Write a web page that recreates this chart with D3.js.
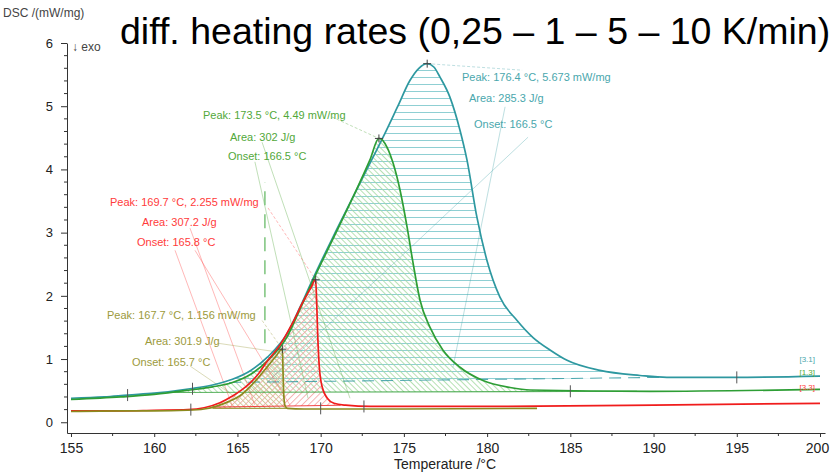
<!DOCTYPE html>
<html>
<head>
<meta charset="utf-8">
<script src="https://cdn.jsdelivr.net/npm/d3@7"></script>
<style>
  body { margin: 0; background: #fff; }
  svg { font-family: "Liberation Sans", Arial, sans-serif; }
</style>
</head>
<body>
<div id="chart"></div>
<script>
// DSC curves, [temperature °C, DSC mW/mg]
const curve10K = [[155.0,0.38],[157,0.4],[158.4,0.43],[160,0.46],[162.15,0.53],[163.5,0.59],[164.7,0.68],[165.8,0.82],[166.8,1.03],[168.0,1.41],[168.76,1.82],[169.5,2.25],[170.74,2.93],[171.94,3.56],[173.14,4.19],[173.75,4.51],[174.6,4.98],[175.37,5.41],[175.9,5.6],[176.4,5.673],[176.8,5.62],[177.17,5.46],[177.77,5.14],[178.37,4.62],[178.79,4.15],[179.39,3.24],[179.99,2.56],[180.77,1.98],[181.8,1.61],[182.76,1.34],[183.8,1.14],[184.8,0.98],[186.78,0.82],[189.19,0.74],[190.8,0.71],[194.77,0.71],[200,0.73]]
const curve5K = [[155,0.36],[158,0.4],[160,0.44],[162.15,0.51],[163.5,0.56],[164.7,0.63],[165.8,0.76],[166.8,0.97],[168.0,1.36],[168.76,1.79],[169.5,2.22],[170.74,2.9],[171.94,3.56],[172.96,4.15],[173.5,4.49],[173.99,4.35],[174.35,4.1],[174.77,3.67],[175.19,3.09],[175.55,2.52],[175.97,1.93],[176.57,1.5],[177.35,1.14],[178.37,0.87],[179.75,0.66],[181.38,0.55],[182.58,0.51],[189.8,0.49],[200,0.52]]
const curve1K = [[155,0.18],[158,0.18],[160,0.19],[162,0.2],[163,0.23],[163.95,0.31],[164.73,0.42],[165.3,0.52],[165.75,0.62],[166.3,0.78],[166.77,0.96],[167.55,1.22],[168.33,1.58],[168.93,1.9],[169.4,2.12],[169.7,2.255],[169.76,1.9],[169.82,1.4],[169.92,0.87],[170.1,0.55],[170.4,0.38],[170.8,0.3],[171.5,0.27],[173,0.25],[180,0.25],[190,0.27],[200,0.3]]
const curve025K = [[155,0.17],[158,0.18],[160,0.18],[162,0.19],[163,0.21],[163.8,0.26],[164.5,0.33],[165.15,0.42],[165.75,0.56],[166.3,0.72],[166.8,0.88],[167.3,1.04],[167.7,1.156],[167.74,0.8],[167.78,0.45],[167.85,0.27],[168,0.22],[169,0.21],[175,0.21],[183,0.22]]

// evaluation results (order: 10, 5, 1, 0.25 K/min)
const peakT = [176.4, 173.5, 169.7, 167.7]
const peakV = ['5.673', '4.49', '2.255', '1.156']
const areas = ['285.3', '302', '307.2', '301.9']
const onsets = ['166.5', '166.5', '165.8', '165.7']

// integration baselines [[T1,v1],[T2,v2]]
const baselines = [
  [[164.5,0.63],[190.5,0.71]],
  [[161,0.47],[189,0.49]],
  [[163.5,0.24],[171.2,0.27]],
  [[163.5,0.22],[168,0.22]]
]
// limit marks on the curves
const limitMarks = [[158.4,0.43],[195,0.71],[162.3,0.53],[185,0.49],[162.2,0.2],[170,0.22],[172.6,0.25]]
// onset guide (dashed vertical)
const onsetGuide = [[166.65,1.25],[166.65,3.8]]
// leader lines, data coords
const leaders = [
  [[[176.4,5.673],[182.1,5.57]], [[181.08,4.99],[177.95,0.87]], [[182.46,4.51],[166.78,0.63]]],
  [[[170.68,4.83],[173.5,4.49]], [[166.48,4.43],[171.76,0.38]], [[166.05,4.12],[169.24,0.38]]],
  [[[166.84,3.39],[169.7,2.255]], [[162.15,3.07],[166.05,0.27]], [[161.25,2.72],[164.67,0.27]], [[162.45,2.72],[168.16,0.27]]],
  [[[166.48,1.61],[167.7,1.156]], [[163.83,1.25],[167.44,1.11]], [[162.15,0.89],[165.15,0.35]]]
]
const endLabels = ['[3.1]', '[1.3]', '[3.3]']
const xTicks = [155,160,165,170,175,180,185,190,195,200]
const yTicks = [0,1,2,3,4,5,6]

const curves = [curve10K, curve5K, curve1K, curve025K]
const lineColors = ['#2e98a0', '#2e9e35', '#f01c1c', '#8c8a1e']
const textColors = ['#4aa7ad', '#52a83a', '#ff3b3b', '#9c9a3c']
const hatchColors = ['#8fcfd3', '#a3d9a0', '#f5a3a3', '#c9c68c']

// text positions (px): [x, baseline] for Peak, Area, Onset
const textPos = [
  [[462,81],[469,102],[474,128]],
  [[203,119],[230,141],[228,160]],
  [[110,206],[142,226],[137,246]],
  [[107,319],[145,345],[132,366]]
]
const endLabelY = [362, 375, 390]

const width = 830, height = 474

const svg = d3.select('#chart').append('svg')
  .attr('width', width)
  .attr('height', height)

const x = d3.scaleLinear().domain([154.76, 200.3]).range([67, 825])
const y = d3.scaleLinear().domain([-0.17, 6]).range([433, 43])

const defs = svg.append('defs')

// hatch patterns
const pat = (id, color, size, rot, horizontal) => {
  const p = defs.append('pattern')
    .attr('id', id)
    .attr('patternUnits', 'userSpaceOnUse')
    .attr('width', horizontal ? 10 : size)
    .attr('height', size)
  if (rot) p.attr('patternTransform', `rotate(${rot})`)
  if (horizontal) {
    p.append('line').attr('x1', 0).attr('x2', 10).attr('y1', 0.5).attr('y2', 0.5)
      .attr('stroke', color).attr('stroke-width', 1)
  } else {
    p.append('line').attr('x1', 0.5).attr('x2', 0.5).attr('y1', 0).attr('y2', size)
      .attr('stroke', color).attr('stroke-width', 0.8)
  }
}
pat('h0', hatchColors[0], 7, 0, true)
pat('h1', hatchColors[1], 4, -45, false)
pat('h2', hatchColors[2], 4.5, 45, false)
pat('h3', hatchColors[3], 3.5, -45, false)

const line = d3.line().x(d => x(d[0])).y(d => y(d[1])).curve(d3.curveMonotoneX)

// hatched integration areas
curves.forEach((c, i) => {
  const b = baselines[i]
  const base = t => b[0][1] + (t - b[0][0]) * (b[1][1] - b[0][1]) / (b[1][0] - b[0][0])
  defs.append('clipPath').attr('id', 'clip' + i)
    .append('rect')
    .attr('x', x(b[0][0])).attr('width', x(b[1][0]) - x(b[0][0]))
    .attr('y', 0).attr('height', height)
  const area = d3.area()
    .x(d => x(d[0]))
    .y0(d => y(base(d[0])))
    .y1(d => y(Math.max(d[1], base(d[0]))))
    .curve(d3.curveMonotoneX)
  svg.append('path')
    .datum(c)
    .attr('clip-path', `url(#clip${i})`)
    .attr('fill', `url(#h${i})`)
    .attr('d', area)
})

// baselines
svg.append('g').selectAll('line').data(baselines).enter().append('line')
  .attr('x1', d => x(d[0][0])).attr('y1', d => y(d[0][1]))
  .attr('x2', d => x(d[1][0])).attr('y2', d => y(d[1][1]))
  .attr('stroke', (d, i) => lineColors[i])
  .attr('stroke-width', 1.1)
  .attr('stroke-dasharray', (d, i) => i === 0 ? '12,7' : null)
  .attr('opacity', 0.8)

// leader lines
leaders.forEach((ls, i) => {
  svg.append('g').selectAll('line').data(ls).enter().append('line')
    .attr('x1', d => x(d[0][0])).attr('y1', d => y(d[0][1]))
    .attr('x2', d => x(d[1][0])).attr('y2', d => y(d[1][1]))
    .attr('stroke', textColors[i])
    .attr('stroke-width', 0.6)
    .attr('stroke-dasharray', (d, j) => j === 0 ? '3,2' : null)
    .attr('opacity', 0.6)
})

// onset guide
svg.append('line')
  .attr('x1', x(onsetGuide[0][0])).attr('y1', y(onsetGuide[0][1]))
  .attr('x2', x(onsetGuide[1][0])).attr('y2', y(onsetGuide[1][1]))
  .attr('stroke', '#7cc47c').attr('stroke-width', 1.5)
  .attr('stroke-dasharray', '14,9')

// curves
curves.forEach((c, i) => {
  svg.append('path')
    .datum(c)
    .attr('fill', 'none')
    .attr('stroke', lineColors[i])
    .attr('stroke-width', 1.7)
    .attr('d', line)
})

// limit marks
svg.append('g').selectAll('line').data(limitMarks).enter().append('line')
  .attr('x1', d => x(d[0])).attr('x2', d => x(d[0]))
  .attr('y1', d => y(d[1]) - 6).attr('y2', d => y(d[1]) + 6)
  .attr('stroke', '#555').attr('stroke-width', 1)

// peak markers
const peakG = svg.append('g').selectAll('g').data(peakT).enter().append('g')
  .attr('transform', (d, i) => `translate(${x(d)},${y(+peakV[i])})`)
peakG.append('line').attr('x1', -4).attr('x2', 4).attr('stroke', '#444').attr('stroke-width', 1)
peakG.append('line').attr('y1', -4).attr('y2', 4).attr('stroke', '#444').attr('stroke-width', 1)

// annotation texts
peakT.forEach((t, i) => {
  const lines = [
    `Peak: ${t} °C, ${peakV[i]} mW/mg`,
    `Area: ${areas[i]} J/g`,
    `Onset: ${onsets[i]} °C`
  ]
  svg.append('g').selectAll('text').data(lines).enter().append('text')
    .attr('x', (d, j) => textPos[i][j][0])
    .attr('y', (d, j) => textPos[i][j][1])
    .attr('font-size', 11)
    .attr('fill', textColors[i])
    .text(d => d)
})

// right end labels
svg.append('g').selectAll('text').data(endLabels).enter().append('text')
  .attr('x', 815)
  .attr('y', (d, i) => endLabelY[i])
  .attr('text-anchor', 'end')
  .attr('font-size', 8)
  .attr('fill', (d, i) => textColors[i])
  .text(d => d)

// axes
const xAxis = d3.axisBottom(x).tickValues(xTicks).tickSize(4).tickSizeOuter(0).tickPadding(6)
const xAxisG = svg.append('g').attr('transform', `translate(0,${y(-0.17)})`).call(xAxis)
xAxisG.selectAll('text').attr('font-size', 14).attr('fill', '#222').attr('font-family', null)
xAxisG.selectAll('.tick:last-of-type text').attr('dx', -3)
xAxisG.selectAll('line, path').attr('stroke', '#333')
xAxisG.selectAll('.minor').data(xTicks.slice(0, -1).map(d => d + 2.5)).enter().append('line')
  .attr('x1', d => x(d)).attr('x2', d => x(d)).attr('y1', 0).attr('y2', 3).attr('stroke', '#333')

const yAxis = d3.axisLeft(y).tickValues(yTicks).tickFormat(d3.format('d'))
  .tickSize(6).tickSizeOuter(0).tickPadding(8)
const yAxisG = svg.append('g').attr('transform', `translate(${x(154.76)},0)`).call(yAxis)
yAxisG.selectAll('text').attr('font-size', 13).attr('fill', '#222').attr('font-family', null)
yAxisG.selectAll('line, path').attr('stroke', '#333')
yAxisG.selectAll('.minor').data(d3.range(1, 30).filter(k => k % 5).map(k => k * 0.2)).enter().append('line')
  .attr('y1', d => y(d)).attr('y2', d => y(d)).attr('x1', 0).attr('x2', -3).attr('stroke', '#333')

// titles
svg.append('text')
  .attr('x', 3).attr('y', 17)
  .attr('font-size', 12).attr('fill', '#444')
  .text('DSC /(mW/mg)')
svg.append('text')
  .attr('x', 72).attr('y', 51)
  .attr('font-size', 12).attr('fill', '#444')
  .text('↓ exo')
svg.append('text')
  .attr('x', 120).attr('y', 44)
  .attr('font-size', 37.5).attr('fill', '#000')
  .text('diff. heating rates (0,25 – 1 – 5 – 10 K/min)')
svg.append('text')
  .attr('x', 445).attr('y', 469)
  .attr('text-anchor', 'middle')
  .attr('font-size', 14).attr('fill', '#222')
  .text('Temperature /°C')
</script>
</body>
</html>
